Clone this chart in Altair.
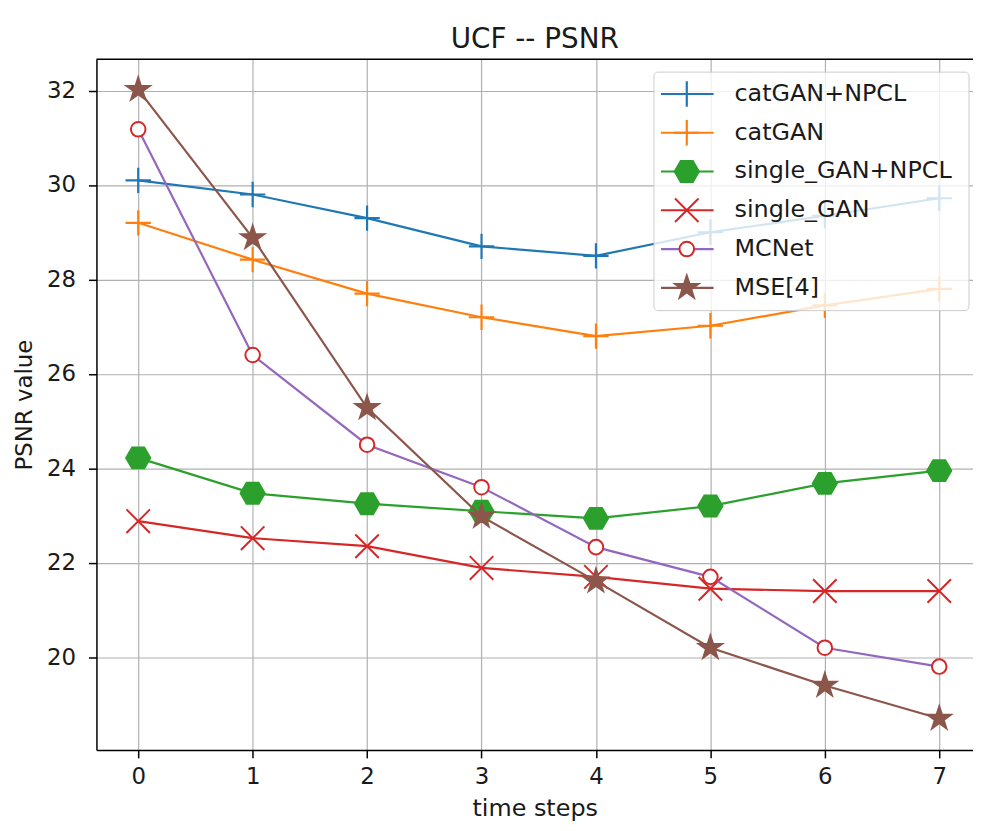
import altair as alt
import pandas as pd

# ---------------- data ----------------
time_steps = [0, 1, 2, 3, 4, 5, 6, 7]
series_names = ["catGAN+NPCL", "catGAN", "single_GAN+NPCL", "single_GAN", "MCNet", "MSE[4]"]

catgan_npcl = [30.1, 29.8, 29.3, 28.7, 28.5, 29.0, 29.35, 29.72]
catgan = [29.2, 28.42, 27.7, 27.2, 26.8, 27.02, 27.45, 27.8]
single_gan_npcl = [24.22, 23.47, 23.25, 23.09, 22.94, 23.2, 23.68, 23.95]
single_gan = [22.88, 22.52, 22.35, 21.89, 21.7, 21.45, 21.4, 21.4]
mcnet = [31.18, 26.4, 24.5, 23.6, 22.33, 21.7, 20.2, 19.8]
mse4 = [32.02, 28.88, 25.28, 22.98, 21.61, 20.2, 19.4, 18.7]

y_ticks = [20, 22, 24, 26, 28, 30, 32]

values_by_series = [catgan_npcl, catgan, single_gan_npcl, single_gan, mcnet, mse4]

rows = []
for name, vals in zip(series_names, values_by_series):
    for t, v in zip(time_steps, vals):
        rows.append({"series": name, "t": t, "psnr": v})
df = pd.DataFrame(rows)
legend_df = pd.DataFrame({"name": series_names})
one_row = pd.DataFrame({"a": [0]})

# ---------------- styles ----------------
FONT = "DejaVu Sans"
W, H = 882, 695

plus_path = "M-1,0L1,0M0,-1L0,1"
x_path = "M-1,-1L1,1M-1,1L1,-1"
hex_path = "M1,0L0.5,0.866L-0.5,0.866L-1,0L-0.5,-0.866L0.5,-0.866Z"
star_path = ("M0,-1L0.2245,-0.309L0.951,-0.309L0.3633,0.118L0.588,0.809L0,0.382"
             "L-0.588,0.809L-0.3633,0.118L-0.951,-0.309L-0.2245,-0.309Z")

styles = {
    "catGAN+NPCL": dict(line="#1f77b4", shape=plus_path, size=650, fill="transparent", stroke="#1f77b4", sw=2.2),
    "catGAN": dict(line="#ff7f0e", shape=plus_path, size=650, fill="transparent", stroke="#ff7f0e", sw=2.2),
    "single_GAN+NPCL": dict(line="#2ca02c", shape=hex_path, size=620, fill="#2ca02c", stroke="#2ca02c", sw=1.5),
    "single_GAN": dict(line="#d62728", shape=x_path, size=560, fill="transparent", stroke="#d62728", sw=2),
    "MCNet": dict(line="#9467bd", shape="circle", size=215, fill="white", stroke="#d62728", sw=2),
    "MSE[4]": dict(line="#8c564b", shape=star_path, size=680, fill="#8c564b", stroke="#8c564b", sw=1.5),
}

x_enc = alt.X("t:Q", scale=alt.Scale(domain=[-0.365, 7.295], nice=False, zero=False),
              axis=alt.Axis(values=time_steps, format="d", title="time steps",
                            labelPadding=8, titlePadding=8, titleFontSize=24))
y_enc = alt.Y("psnr:Q", scale=alt.Scale(domain=[18.035, 32.665], nice=False, zero=False),
              axis=alt.Axis(values=y_ticks, format="d", title="PSNR value",
                            labelPadding=13, titlePadding=10, titleFontSize=23))

data_layers = []
for name in series_names:
    st = styles[name]
    base = alt.Chart(df).transform_filter(alt.datum.series == name)
    data_layers.append(base.mark_line(color=st["line"], strokeWidth=2.2).encode(x=x_enc, y=y_enc))
    data_layers.append(
        base.mark_point(shape=st["shape"], size=st["size"], filled=True, fill=st["fill"],
                        stroke=st["stroke"], strokeWidth=st["sw"], opacity=1,
                        fillOpacity=1, strokeOpacity=1).encode(x=x_enc, y=y_enc)
    )
main = alt.layer(*data_layers)

# ---------------- legend (drawn by hand, matplotlib style) ----------------
leg_y = alt.Y("name:N", scale=alt.Scale(type="point", domain=series_names, range=[35, 230], padding=0),
              axis=None)
legend_layers = [
    alt.Chart(one_row).mark_rule(color="black", strokeWidth=1.5).encode(
        x=alt.value(0), x2=alt.value(W), y=alt.value(0)),
    alt.Chart(one_row).mark_rect(fill="white", fillOpacity=0.8, stroke="#cccccc", strokeWidth=1,
                                 cornerRadius=4).encode(
        x=alt.value(561), x2=alt.value(878), y=alt.value(13), y2=alt.value(253)),
]
for name in series_names:
    st = styles[name]
    lb = alt.Chart(legend_df).transform_filter(alt.datum.name == name)
    legend_layers.append(lb.mark_rule(color=st["line"], strokeWidth=2.2).encode(
        x=alt.value(568), x2=alt.value(621), y=leg_y))
    legend_layers.append(lb.mark_point(shape=st["shape"], size=st["size"], filled=True, fill=st["fill"],
                                       stroke=st["stroke"], strokeWidth=st["sw"], opacity=1,
                                       fillOpacity=1, strokeOpacity=1).encode(
        x=alt.value(594), y=leg_y))
legend_layers.append(
    alt.Chart(legend_df).mark_text(align="left", baseline="middle", font=FONT, fontSize=24,
                                   color="#1a1a1a").encode(
        x=alt.value(642), y=leg_y, text="name:N"))
legend = alt.layer(*legend_layers)

chart = alt.layer(main, legend).resolve_scale(y="independent").properties(
    width=W, height=H,
    title=alt.TitleParams("UCF -- PSNR", fontSize=28, fontWeight="normal", font=FONT,
                          anchor="middle", offset=5, color="#1a1a1a"),
    autosize=alt.AutoSizeParams(type="none"),
    padding={"left": 89, "top": 49, "right": 0, "bottom": 70},
).configure_view(stroke="transparent").configure_axis(
    labelFont=FONT, titleFont=FONT, labelFontSize=23,
    titleFontWeight="normal", labelColor="#1a1a1a", titleColor="#1a1a1a",
    domainColor="black", domainWidth=1.5, tickColor="black", tickWidth=1.5, tickSize=8,
    gridColor="#b0b0b0", gridWidth=1.2, grid=True,
)

chart.save("out.html", embed_options={"renderer": "svg", "actions": False})
